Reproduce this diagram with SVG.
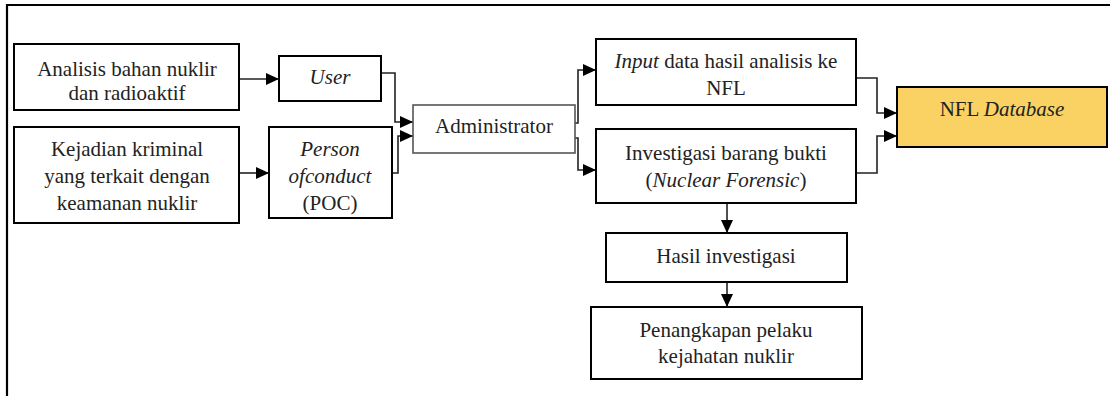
<svg xmlns="http://www.w3.org/2000/svg" width="1110" height="396" viewBox="0 0 1110 396">
<defs>
<marker id="ah" markerUnits="userSpaceOnUse" markerWidth="14" markerHeight="12" refX="13" refY="6" orient="auto">
<path d="M0,0 L13,6 L0,12 Z" fill="#000"/>
</marker>
<style>
.box{fill:#fff;stroke:#000;stroke-width:2}
.db{fill:#FAD264;stroke:#000;stroke-width:2}
.con{fill:none;stroke:#222;stroke-width:1.6}
text{font-family:"Liberation Serif","Times New Roman",Times,Tinos,"Noto Serif","DejaVu Serif",FreeSerif,serif;font-size:21px;fill:#222;text-anchor:middle}
.it{font-style:italic}
</style>
</defs>
<rect width="1110" height="396" fill="#fff"/>
<path d="M7,396 L7,5 L1110,5" fill="none" stroke="#000" stroke-width="2.2"/>
<g id="connectors">
<path class="con" d="M239,79 L279,79" marker-end="url(#ah)"/>
<path class="con" d="M239,173 L269,173" marker-end="url(#ah)"/>
<path class="con" d="M381,73 L395,73 L395,122 L413,122" marker-end="url(#ah)"/>
<path class="con" d="M392,173 L398,173 L398,136 L413,136" marker-end="url(#ah)"/>
<path class="con" d="M575,123 L578,123 L578,70 L596,70" marker-end="url(#ah)"/>
<path class="con" d="M575,138 L578,138 L578,170 L596,170" marker-end="url(#ah)"/>
<path class="con" d="M856,78 L877,78 L877,113 L897,113" marker-end="url(#ah)"/>
<path class="con" d="M856,173 L877,173 L877,136 L897,136" marker-end="url(#ah)"/>
<path class="con" d="M727,203 L727,233" marker-end="url(#ah)"/>
<path class="con" d="M727,282 L727,307" marker-end="url(#ah)"/>
</g>
<g id="analisis">
<rect class="box" x="14" y="44" width="225" height="66"/>
<text x="127" y="76">Analisis bahan nuklir</text>
<text x="127" y="100">dan radioaktif</text>
</g>
<g id="kejadian">
<rect class="box" x="14" y="127" width="225" height="96"/>
<text x="127" y="156">Kejadian kriminal</text>
<text x="127" y="183">yang terkait dengan</text>
<text x="127" y="210">keamanan nuklir</text>
</g>
<g id="user">
<rect class="box" x="279" y="56" width="102" height="45"/>
<text class="it" x="330" y="84">User</text>
</g>
<g id="poc">
<rect class="box" x="269" y="127" width="123" height="91"/>
<text class="it" x="330" y="156">Person</text>
<text class="it" x="330" y="183">ofconduct</text>
<text x="330" y="210">(POC)</text>
</g>
<g id="administrator">
<rect class="box" x="413" y="105" width="162" height="48" style="stroke:#555;stroke-width:1.6"/>
<text x="494" y="133">Administrator</text>
</g>
<g id="input">
<rect class="box" x="596" y="39" width="260" height="66"/>
<text x="726" y="68"><tspan class="it">Input</tspan> data hasil analisis ke</text>
<text x="726" y="95">NFL</text>
</g>
<g id="investigasi">
<rect class="box" x="596" y="129" width="260" height="74"/>
<text x="726" y="160">Investigasi barang bukti</text>
<text x="726" y="187">(<tspan class="it">Nuclear Forensic</tspan>)</text>
</g>
<g id="nfldb">
<rect class="db" x="897" y="87" width="210" height="60"/>
<text x="1002" y="116">NFL <tspan class="it">Database</tspan></text>
</g>
<g id="hasil">
<rect class="box" x="606" y="233" width="241" height="49"/>
<text x="726" y="263">Hasil investigasi</text>
</g>
<g id="penangkapan">
<rect class="box" x="591" y="307" width="271" height="72"/>
<text x="726" y="337">Penangkapan pelaku</text>
<text x="726" y="363">kejahatan nuklir</text>
</g>
</svg>
